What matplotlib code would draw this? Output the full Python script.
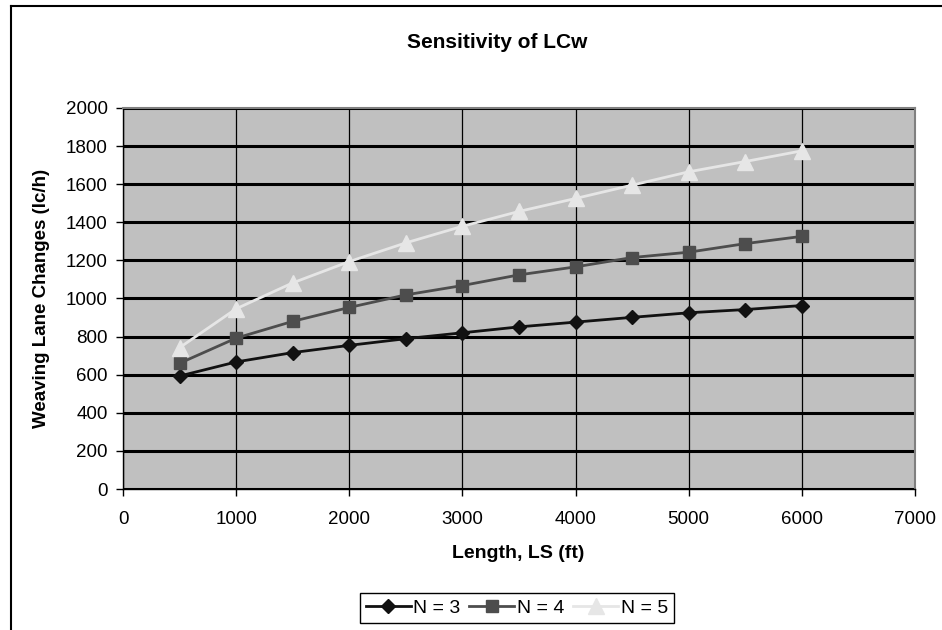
import matplotlib
matplotlib.use('Agg')
import matplotlib.pyplot as plt
from matplotlib.lines import Line2D

plt.rcParams['font.family'] = ['Liberation Sans', 'DejaVu Sans']

# data
length_ft = [500, 1000, 1500, 2000, 2500, 3000, 3500, 4000, 4500, 5000, 5500, 6000]
lcw_n3 = [593, 667, 716, 754, 789, 820, 851, 876, 901, 925, 942, 963]
lcw_n4 = [660, 792, 880, 953, 1019, 1068, 1124, 1166, 1215, 1243, 1288, 1326]
lcw_n5 = [742, 946, 1082, 1194, 1292, 1379, 1457, 1525, 1595, 1665, 1719, 1775]
series_labels = ['N = 3', 'N = 4', 'N = 5']

fig = plt.figure(figsize=(9.42, 6.3), dpi=100)
ax = fig.add_axes([0.1306, 0.2238, 0.8407, 0.6048])
ax.set_facecolor('#c0c0c0')

# gridlines: thick horizontal, thin vertical
ax.set_axisbelow(True)
ax.yaxis.grid(True, color='black', linewidth=2.2)
ax.xaxis.grid(True, color='black', linewidth=0.9)

ax.plot(length_ft, lcw_n3, color='#111111', lw=2.0, marker='D', ms=7.5, label=series_labels[0])
ax.plot(length_ft, lcw_n4, color='#4d4d4d', lw=2.0, marker='s', ms=9, label=series_labels[1])
ax.plot(length_ft, lcw_n5, color='#e6e6e6', lw=2.0, marker='^', ms=11, label=series_labels[2])

ax.set_xlim(0, 7000)
ax.set_ylim(0, 2000)
ax.set_xticks(range(0, 7001, 1000))
ax.set_yticks(range(0, 2001, 200))
ax.tick_params(direction='out', length=5, width=1, labelsize=13.5)
ax.tick_params(axis='x', pad=11)
ax.tick_params(axis='y', pad=6)

for side in ['top', 'right']:
    ax.spines[side].set_color('#808080')
    ax.spines[side].set_linewidth(1.5)
for side in ['left', 'bottom']:
    ax.spines[side].set_color('black')
    ax.spines[side].set_linewidth(1.0)

fig.text(518 / 942, 1 - 553 / 630, 'Length, LS (ft)', fontsize=14, fontweight='bold',
         ha='center', va='center')
fig.text(42 / 942, 1 - 298 / 630, 'Weaving Lane Changes (lc/h)', fontsize=13.5, fontweight='bold',
         ha='center', va='center', rotation=90)
fig.text(0.528, 1 - 42 / 630, 'Sensitivity of LCw', fontsize=15, fontweight='bold',
         ha='center', va='center')

leg = fig.legend(loc='center', bbox_to_anchor=(517 / 942, 1 - 608 / 630), ncol=3, fontsize=14,
                 handlelength=2.3, handletextpad=0.15, columnspacing=0.45,
                 borderpad=0.3, borderaxespad=0, fancybox=False, framealpha=1)
leg.get_frame().set_edgecolor('black')
leg.get_frame().set_linewidth(1.0)

# outer chart frame (left and top edges visible)
fig.add_artist(Line2D([0.0117, 0.0117], [0.0, 0.9905], transform=fig.transFigure, color='black', lw=1.5))
fig.add_artist(Line2D([0.0117, 1.0], [0.9905, 0.9905], transform=fig.transFigure, color='black', lw=1.5))

fig.savefig('out.png', dpi=100)
plt.close(fig)
